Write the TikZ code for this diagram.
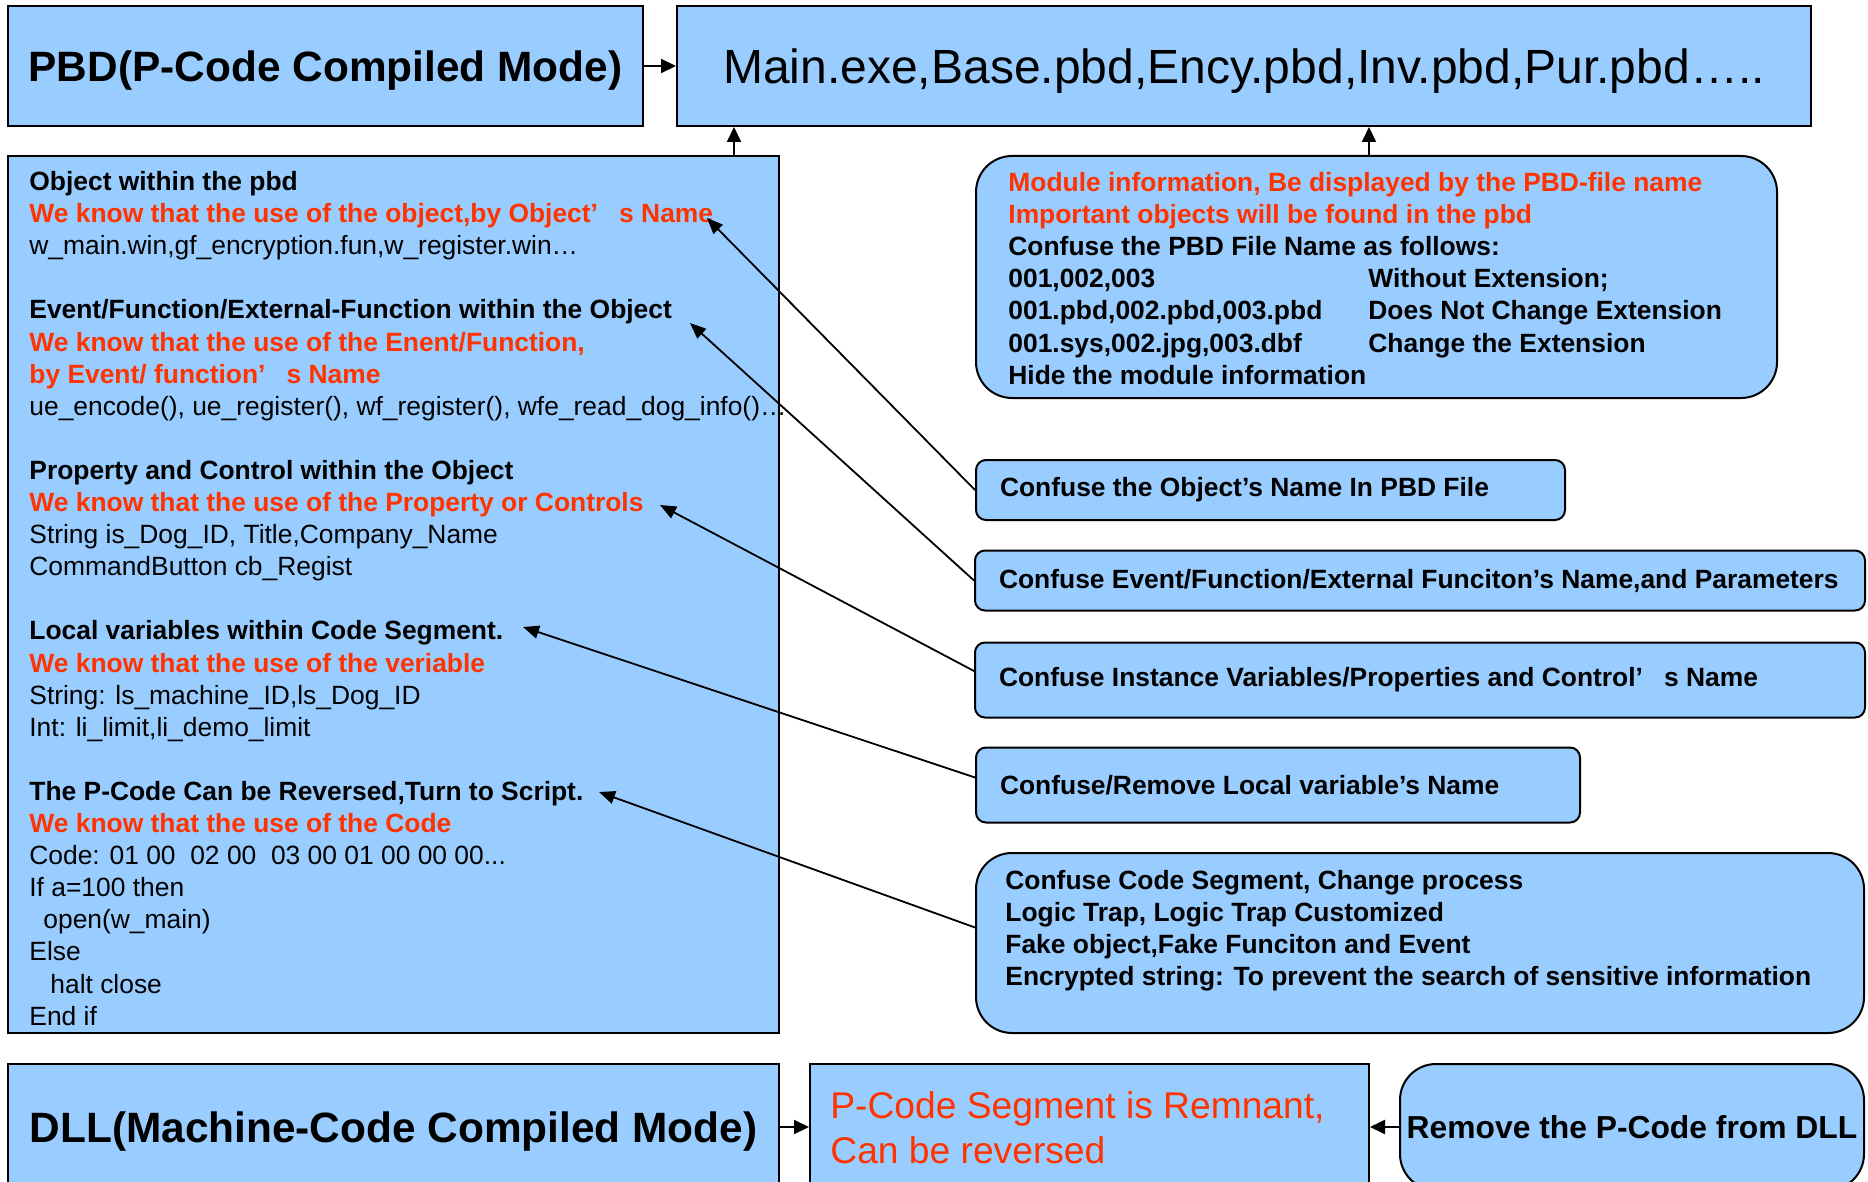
\documentclass[tikz,border=0pt]{standalone}
\usepackage{fontspec}
\setmainfont{Liberation Sans}
\usetikzlibrary{arrows.meta}
\definecolor{boxblue}{HTML}{99CCFF}
\definecolor{hotred}{HTML}{FF3300}
\newcommand\redline[1]{\textcolor{hotred}{\bfseries #1}}
\newcommand\wideq{’\hspace{0.8em}}

\begin{document}
\begin{tikzpicture}[x=0.5pt,y=-0.5pt,
  panel/.style={draw=black, line width=1pt, fill=boxblue, inner sep=0pt},
  roundpanel/.style={panel, rounded corners=18pt},
  tagbox/.style={panel, rounded corners=5pt, inner xsep=12pt,
    font=\fontsize{13.2pt}{16.05pt}\selectfont\bfseries},
  body/.style={inner sep=0pt, align=left, anchor=north west,
    font=\fontsize{13.2pt}{16.05pt}\selectfont},
  link/.style={draw=black, line width=1pt, -{Triangle[length=7.5pt,width=7pt]}},
  pointer/.style={draw=black, line width=0.9pt, -{Triangle[length=8pt,width=6.5pt]}}]

\useasboundingbox (0,0) rectangle (1868,1182);
\clip (0,0) rectangle (1868,1182);

% top row
\node[panel, minimum width=317.5pt, minimum height=60pt, text depth=0pt,
      font=\fontsize{21.2pt}{25pt}\selectfont\bfseries] (pbd) at (325.5,66)
      {PBD(P-Code Compiled Mode)};
\node[panel, minimum width=567pt, minimum height=60pt, text depth=0pt,
      font=\fontsize{24pt}{28pt}\selectfont] (files) at (1244,66)
      {Main.exe,Base.pbd,Ency.pbd,Inv.pbd,Pur.pbd…..};

% left column: what can be read from a pbd
\node[panel, minimum width=385.5pt, minimum height=438.5pt] (inside) at (393.5,594.5) {};
\node[body] (insidetext) at (29,171) {%
\textbf{Object within the pbd}\\
\redline{We know that the use of the object,by Object\wideq s Name}\\
w\_main.win,gf\_encryption.fun,w\_register.win…\\[16.05pt]
\textbf{Event/Function/External-Function within the Object}\\
\redline{We know that the use of the Enent/Function,}\\
\redline{by Event/ function\wideq s Name}\\
ue\_encode(), ue\_register(), wf\_register(), wfe\_read\_dog\_info()…\\[16.05pt]
\textbf{Property and Control within the Object}\\
\redline{We know that the use of the Property or Controls}\\
String is\_Dog\_ID, Title,Company\_Name\\
CommandButton cb\_Regist\\[16.05pt]
\textbf{Local variables within Code Segment.}\\
\redline{We know that the use of the veriable}\\
String: ls\_machine\_ID,ls\_Dog\_ID\\
Int: li\_limit,li\_demo\_limit\\[16.05pt]
\textbf{The P-Code Can be Reversed,Turn to Script.}\\
\redline{We know that the use of the Code}\\
Code: 01 00\ \ 02 00\ \ 03 00 01 00 00 00...\\
If a=100 then\\
\hspace*{7pt}open(w\_main)\\
Else\\
\hspace*{10.5pt}halt close\\
End if};

% right column: counter-measures
\node[roundpanel, minimum width=400.5pt, minimum height=121pt] (modinfo) at (1376.5,277) {};
\node[body, font=\fontsize{13.2pt}{16.05pt}\selectfont\bfseries] (modtext) at (1008,172) {%
\redline{Module information, Be displayed by the PBD-file name}\\
\redline{Important objects will be found in the pbd}\\
Confuse the PBD File Name as follows:\\
\makebox[180pt][l]{001,002,003}Without Extension;\\
\makebox[180pt][l]{001.pbd,002.pbd,003.pbd}Does Not Change Extension\\
\makebox[180pt][l]{001.sys,002.jpg,003.dbf}Change the Extension\\
Hide the module information};

\node[tagbox, minimum height=30pt] (objname) at (1270.5,490)
  {\makebox[270.5pt][l]{Confuse the Object’s Name In PBD File}};
\node[tagbox, minimum height=30pt] (evname) at (1420,580.5)
  {\makebox[421pt][l]{Confuse Event/Function/External Funciton’s Name,and Parameters}};
\node[tagbox, minimum height=37.5pt] (instname) at (1420,680)
  {\makebox[421pt][l]{Confuse Instance Variables/Properties and Control\wideq s Name}};
\node[tagbox, minimum height=37.5pt] (localname) at (1278,785)
  {\makebox[278pt][l]{Confuse/Remove Local variable’s Name}};

\node[roundpanel, minimum width=444pt, minimum height=90pt] (codeseg) at (1420,943) {};
\node[body, font=\fontsize{13.2pt}{16.05pt}\selectfont\bfseries] (codetext) at (1005,870) {%
Confuse Code Segment, Change process\\
Logic Trap, Logic Trap Customized\\
Fake object,Fake Funciton and Event\\
Encrypted string: To prevent the search of sensitive information};

% bottom row
\node[panel, minimum width=385.5pt, minimum height=63pt, text depth=0pt,
      font=\fontsize{21.2pt}{25pt}\selectfont\bfseries] (dll) at (393.5,1127)
      {DLL(Machine-Code Compiled Mode)};
\node[panel, minimum width=279.5pt, minimum height=63pt] (pcode) at (1089.5,1127) {};
\node[body, font=\fontsize{18.6pt}{22.5pt}\selectfont, text=hotred] (pcodetext) at (830,1091) {%
P-Code Segment is Remnant,\\
Can be reversed};
\node[roundpanel, minimum width=232pt, minimum height=63pt,
      font=\fontsize{15.9pt}{19pt}\selectfont\bfseries] (remove) at (1632,1127)
      {Remove the P-Code from DLL};

% connectors
\draw[link] (pbd.east) -- (files.west);
\draw[link] ([xshift=-23pt]inside.north east) -- ([xshift=-23pt]inside.north east |- files.south);
\draw[link] ([xshift=-3.75pt]modinfo.north) -- ([xshift=-3.75pt]modinfo.north |- files.south);
\draw[link] (dll.east) -- (pcode.west);
\draw[link] (remove.west) -- (pcode.east);

\coordinate (aObj) at (707,218);
\coordinate (aEv) at (690,323);
\coordinate (aProp) at (660,505);
\coordinate (aLocal) at (523,627);
\coordinate (aCode) at (599,792);
\draw[pointer] (objname.west) -- (aObj);
\draw[pointer] (evname.west) -- (aEv);
\draw[pointer] ([yshift=4.5pt]instname.west) -- (aProp);
\draw[pointer] ([yshift=3.75pt]localname.west) -- (aLocal);
\draw[pointer] ([yshift=7.75pt]codeseg.west) -- (aCode);
\end{tikzpicture}
\end{document}
